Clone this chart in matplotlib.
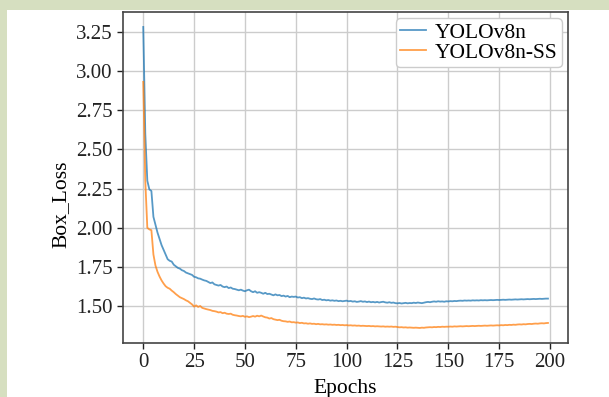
import matplotlib
matplotlib.use("Agg")
import matplotlib.pyplot as plt
from matplotlib.patches import Rectangle

# -----------------------------
# Data
# -----------------------------
yolov8n = [
    3.28, 2.60, 2.30, 2.245, 2.235, 2.07, 2.02, 1.97, 1.93, 1.89,
    1.86, 1.83, 1.80, 1.79, 1.785, 1.765, 1.755, 1.745, 1.74, 1.73,
    1.725, 1.715, 1.71, 1.705, 1.70, 1.688, 1.685, 1.678, 1.676, 1.67,
    1.665, 1.662, 1.655, 1.648, 1.652, 1.64, 1.636, 1.632, 1.636, 1.626,
    1.622, 1.626, 1.616, 1.62, 1.612, 1.61, 1.606, 1.602, 1.606, 1.60,
    1.596, 1.602, 1.606, 1.596, 1.59, 1.596, 1.586, 1.59, 1.586, 1.58,
    1.586, 1.578, 1.58, 1.575, 1.57, 1.576, 1.57, 1.572, 1.565, 1.568,
    1.562, 1.566, 1.558, 1.562, 1.56, 1.562, 1.556, 1.558, 1.552, 1.555,
    1.55, 1.552, 1.548, 1.546, 1.55, 1.545, 1.543, 1.546, 1.54, 1.542,
    1.538, 1.54, 1.536, 1.538, 1.535, 1.537, 1.533, 1.535, 1.532, 1.534,
    1.536, 1.532, 1.534, 1.53, 1.532, 1.528, 1.53, 1.533, 1.529, 1.531,
    1.527, 1.53, 1.526, 1.528, 1.525, 1.528, 1.524, 1.527, 1.529, 1.525,
    1.523, 1.526, 1.522, 1.524, 1.52, 1.519, 1.521, 1.518, 1.52, 1.522,
    1.519, 1.521, 1.52, 1.523, 1.521, 1.524, 1.522, 1.52, 1.523, 1.526,
    1.528, 1.526, 1.529, 1.531, 1.529, 1.532, 1.53, 1.531, 1.529, 1.532,
    1.531, 1.533, 1.532, 1.534, 1.533, 1.535, 1.536, 1.535, 1.537, 1.536,
    1.537, 1.536, 1.538, 1.537, 1.538, 1.537, 1.539, 1.538, 1.539, 1.538,
    1.539, 1.54, 1.539, 1.54, 1.541, 1.54, 1.541, 1.542, 1.541, 1.542,
    1.543, 1.542, 1.543, 1.544, 1.543, 1.544, 1.545, 1.544, 1.545, 1.546,
    1.545, 1.546, 1.547, 1.546, 1.547, 1.548, 1.547, 1.548, 1.549, 1.549,
]

yolov8n_ss = [
    2.93, 2.30, 2.00, 1.99, 1.985, 1.83, 1.76, 1.72, 1.69, 1.665,
    1.645, 1.628, 1.618, 1.612, 1.60, 1.59, 1.578, 1.568, 1.558, 1.552,
    1.546, 1.538, 1.532, 1.522, 1.512, 1.498, 1.506, 1.496, 1.502, 1.49,
    1.486, 1.482, 1.479, 1.476, 1.471, 1.469, 1.466, 1.461, 1.463, 1.456,
    1.459, 1.453, 1.451, 1.453, 1.446, 1.443, 1.441, 1.438, 1.436, 1.439,
    1.433, 1.436, 1.431, 1.434, 1.438, 1.434, 1.44, 1.436, 1.441, 1.435,
    1.43, 1.428, 1.422, 1.425, 1.418, 1.415, 1.412, 1.414, 1.408, 1.405,
    1.404, 1.401, 1.403, 1.398, 1.399, 1.396, 1.397, 1.393, 1.395, 1.391,
    1.392, 1.389, 1.391, 1.388, 1.389, 1.386, 1.388, 1.385, 1.386, 1.384,
    1.385, 1.383, 1.384, 1.382, 1.383, 1.381, 1.382, 1.38, 1.381, 1.379,
    1.38, 1.378, 1.379, 1.377, 1.378, 1.376, 1.377, 1.375, 1.376, 1.375,
    1.374, 1.375, 1.373, 1.374, 1.372, 1.373, 1.372, 1.371, 1.372, 1.37,
    1.371, 1.37, 1.371, 1.369, 1.37, 1.368, 1.366, 1.367, 1.365, 1.366,
    1.364, 1.365, 1.364, 1.363, 1.364, 1.363, 1.362, 1.364, 1.363, 1.365,
    1.366, 1.367, 1.366, 1.368, 1.367, 1.369, 1.368, 1.37, 1.369, 1.37,
    1.37, 1.371, 1.37, 1.372, 1.371, 1.372, 1.373, 1.372, 1.373, 1.374,
    1.373, 1.374, 1.375, 1.374, 1.375, 1.376, 1.375, 1.376, 1.377, 1.376,
    1.377, 1.378, 1.377, 1.378, 1.379, 1.378, 1.38, 1.379, 1.381, 1.38,
    1.382, 1.381, 1.383, 1.382, 1.384, 1.385, 1.384, 1.386, 1.385, 1.387,
    1.388, 1.387, 1.389, 1.39, 1.389, 1.391, 1.392, 1.391, 1.393, 1.394,
]

epochs = list(range(len(yolov8n)))
labels = ["YOLOv8n", "YOLOv8n-SS"]

# -----------------------------
# Plot
# -----------------------------
plt.rcParams["font.family"] = ["Liberation Serif", "DejaVu Serif"]
plt.rcParams["font.size"] = 15

fig = plt.figure(figsize=(6.09, 3.97), dpi=100)
ax = fig.add_axes([0.202, 0.136, 0.731, 0.834])

# light green page border (left and top)
fig.patches.append(Rectangle((0, 0), 7 / 609, 1, transform=fig.transFigure,
                             facecolor="#d6dfc0", edgecolor="none", zorder=-10))
fig.patches.append(Rectangle((0, 1 - 10 / 397), 1, 10 / 397, transform=fig.transFigure,
                             facecolor="#d6dfc0", edgecolor="none", zorder=-10))

ax.plot(epochs, yolov8n, color="#1f77b4", alpha=0.75, lw=1.3, label=labels[0])
ax.plot(epochs, yolov8n_ss, color="#ff7f0e", alpha=0.75, lw=1.3, label=labels[1])

ax.set_xticks([0, 25, 50, 75, 100, 125, 150, 175, 200])
ax.set_yticks([1.50, 1.75, 2.00, 2.25, 2.50, 2.75, 3.00, 3.25])
ax.grid(True, color="#cccccc", lw=1.0)
ax.set_axisbelow(True)

for s in ax.spines.values():
    s.set_color("#444444")
    s.set_linewidth(1.2)
ax.tick_params(colors="#222222", length=4, width=1.0, labelsize=15)

ax.set_xlabel("Epochs", fontsize=15.5, labelpad=5)
ax.set_ylabel("Box_Loss", fontsize=15.5)
ax.yaxis.set_label_coords(-0.118, 0.42)

ax.legend(loc="upper right", fontsize=15.5, handlelength=1.2, labelspacing=0.0,
          borderpad=0.2, handletextpad=0.4, borderaxespad=0.3,
          framealpha=1.0, edgecolor="#cccccc")

fig.savefig("out.png", dpi=100)
plt.close()
